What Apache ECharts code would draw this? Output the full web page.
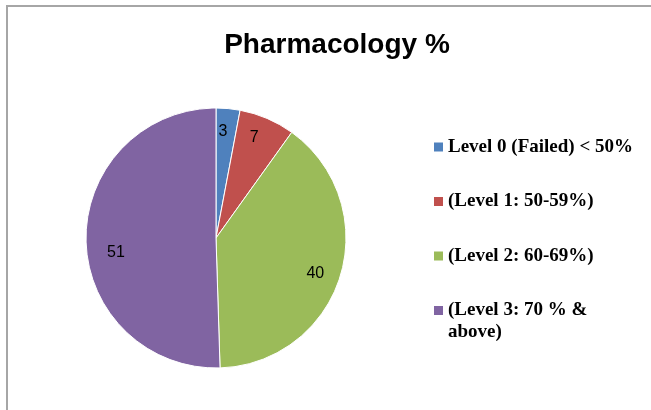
<!DOCTYPE html>
<html>
<head>
<meta charset="utf-8">
<script src="https://cdn.jsdelivr.net/npm/echarts@6/dist/echarts.min.js"></script>
<style>
  html, body { margin: 0; padding: 0; background: #fff; }
  #chart { width: 651px; height: 410px; }
</style>
</head>
<body>
<div id="chart"></div>
<script>
const categories = [
  'Level 0 (Failed) < 50%',
  '(Level 1: 50-59%)',
  '(Level 2: 60-69%)',
  '(Level 3: 70 % & above)',
]
const values = [3, 7, 40, 51]
const colors = ['#4F81BD', '#C0504D', '#9BBB59', '#8064A2']

// small nudges so the value labels sit where Excel put them
const labelNudge = [[-3, 0], [-4, -2], [-3, 4], [7, 13]]

const legendText = {
  fontFamily: 'Liberation Serif',
  fontWeight: 'bold',
  fontSize: 19,
  lineHeight: 22,
  color: '#000',
}
const legendIconStyle = { borderWidth: 0, borderColor: 'transparent' }

const chart = echarts.init(document.getElementById('chart'))
chart.setOption({
  animation: false,
  title: {
    text: 'Pharmacology %',
    left: 332,
    textAlign: 'center',
    top: 26,
    textStyle: { fontFamily: 'Liberation Sans', fontWeight: 'bold', fontSize: 28, color: '#000' },
  },
  legend: [
    {
      data: categories.slice(0, 3),
      orient: 'vertical',
      left: 434,
      top: 136,
      padding: 0,
      itemGap: 32.5,
      itemWidth: 9,
      itemHeight: 9,
      icon: 'path://M0,0h10v10h-10z',
      itemStyle: legendIconStyle,
      selectedMode: false,
      textStyle: legendText,
    },
    {
      data: categories.slice(3),
      orient: 'vertical',
      left: 434,
      top: 299,
      padding: 0,
      itemWidth: 9,
      itemHeight: 30,
      // square at the top of a taller box so it lines up with the first text line
      icon: 'path://M0,0h9v9h-9zM0,30h9',
      itemStyle: legendIconStyle,
      selectedMode: false,
      formatter: name => name.replace('& ', '&\n'),
      textStyle: legendText,
    },
  ],
  graphic: [
    {
      type: 'polyline',
      shape: { points: [[7, 410], [7, 6], [651, 6]] },
      style: { stroke: '#a6a6a6', lineWidth: 2, fill: null },
      silent: true,
    },
  ],
  series: [
    {
      type: 'pie',
      center: [216, 238],
      radius: 130,
      startAngle: 90,
      clockwise: true,
      data: categories.map((name, i) => ({
        name,
        value: values[i],
        itemStyle: { color: colors[i] },
      })),
      label: { show: false },
      labelLine: { show: false },
      itemStyle: { borderColor: '#fff', borderWidth: 1 },
      emphasis: { disabled: true },
    },
    {
      // transparent ring used only to place the value labels near the rim
      type: 'pie',
      center: [216, 238],
      radius: [78, 130],
      startAngle: 90,
      clockwise: true,
      silent: true,
      legendHoverLink: false,
      data: categories.map((name, i) => ({
        name,
        value: values[i],
        label: { offset: labelNudge[i] },
      })),
      itemStyle: { color: 'rgba(0,0,0,0)' },
      label: {
        show: true,
        position: 'inside',
        formatter: '{c}',
        fontFamily: 'Liberation Sans',
        fontSize: 16,
        color: '#000',
      },
      labelLine: { show: false },
      emphasis: { disabled: true },
    },
  ],
})
</script>
</body>
</html>
